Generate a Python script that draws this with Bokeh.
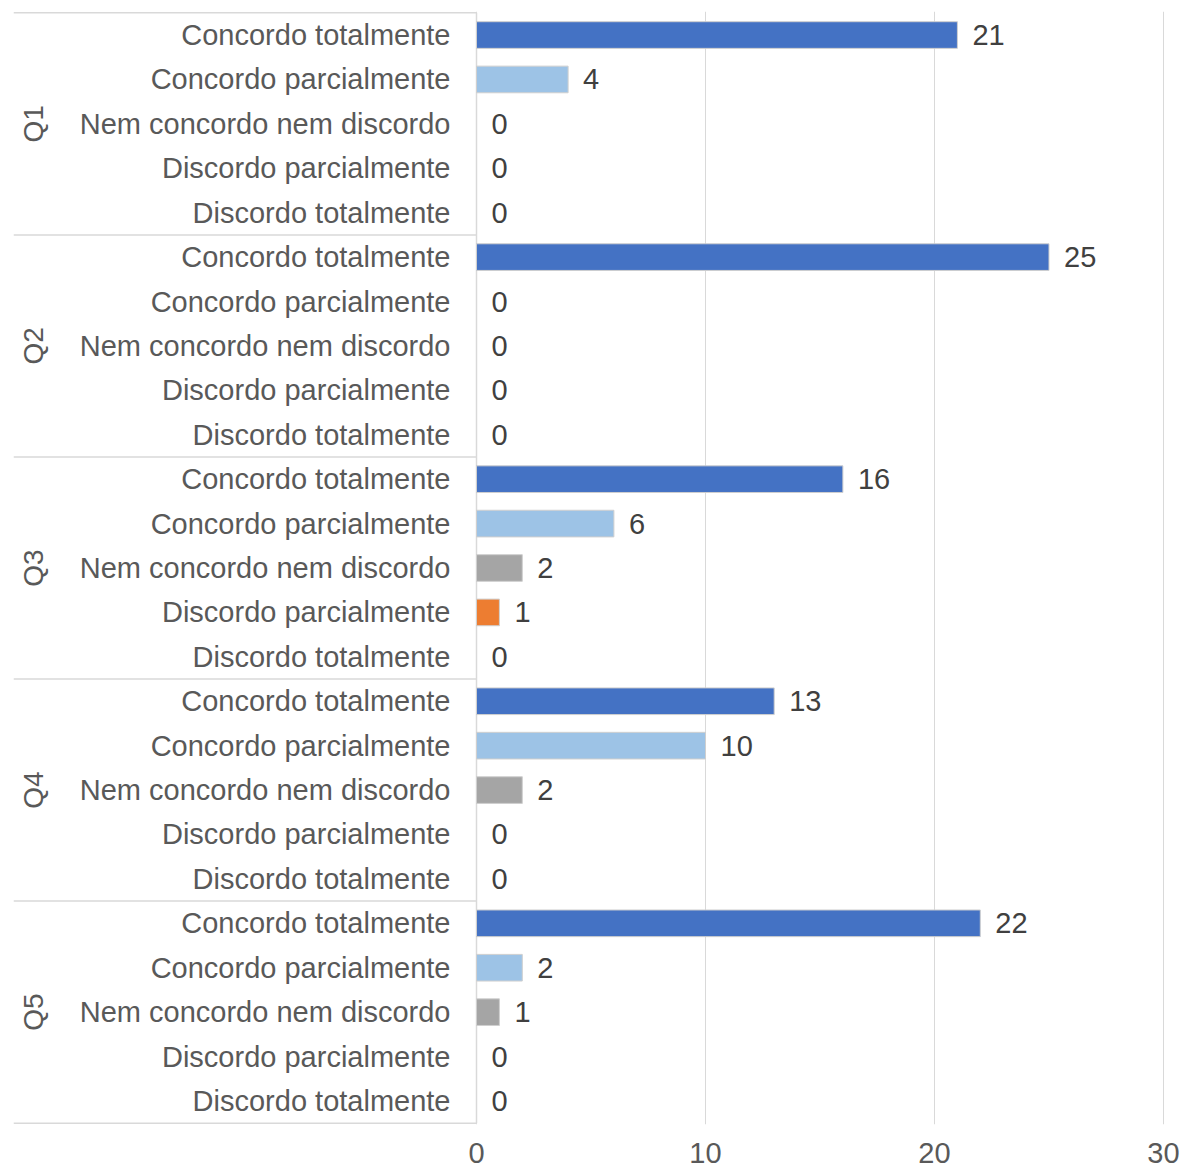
import math
from bokeh.plotting import figure
from bokeh.models import ColumnDataSource, Range1d, FixedTicker
from bokeh.core.properties import value
from bokeh.embed import file_html
from bokeh.resources import INLINE

# ---- data ----
questions = ["Q1", "Q2", "Q3", "Q4", "Q5"]
responses = ["Concordo totalmente", "Concordo parcialmente", "Nem concordo nem discordo",
             "Discordo parcialmente", "Discordo totalmente"]
q1 = [21, 4, 0, 0, 0]
q2 = [25, 0, 0, 0, 0]
q3 = [16, 6, 2, 1, 0]
q4 = [13, 10, 2, 0, 0]
q5 = [22, 2, 1, 0, 0]
x_ticks = [0, 10, 20, 30]
colors = ["#4472C4", "#9DC3E6", "#A5A5A5", "#ED7D31", "#C00000"]

series = [q1, q2, q3, q4, q5]
FONT = "Liberation Sans"

rows_y, rows_v, rows_lab, rows_col, rows_la = [], [], [], [], []
for gi, vals in enumerate(series):
    for ri, v in enumerate(vals):
        rows_y.append(gi * len(responses) + ri + 0.5)
        rows_v.append(v)
        rows_lab.append(responses[ri])
        rows_col.append(colors[ri])
        rows_la.append(1.0 if v > 0 else 0.0)
src = ColumnDataSource(dict(y=rows_y, v=rows_v, lab=rows_lab, col=rows_col, la=rows_la,
                            vtxt=[str(v) for v in rows_v]))

n_rows = len(rows_y)
px_per_unit = 22.9
frame_w = 1191 - 13 - 6
x0 = -463 / px_per_unit
p = figure(width=1191, height=1171, output_backend="svg", toolbar_location=None,
           x_range=Range1d(x0, x0 + frame_w / px_per_unit),
           y_range=Range1d(n_rows + 0.03, -0.03),
           min_border_left=13, min_border_right=6, min_border_top=11, min_border_bottom=47)
p.outline_line_color = None
p.yaxis.visible = False
p.ygrid.visible = False
p.xaxis.ticker = FixedTicker(ticks=x_ticks)
p.xgrid.ticker = FixedTicker(ticks=x_ticks)
p.xgrid.grid_line_color = "#D9D9D9"
p.xgrid.grid_line_width = 1
p.xaxis.axis_line_color = None
p.xaxis.major_tick_line_color = None
p.xaxis.minor_tick_line_color = None
p.xaxis.major_label_text_font = FONT
p.xaxis.major_label_text_font_size = "29px"
p.xaxis.major_label_text_color = "#595959"
p.xaxis.major_label_standoff = 12

# group separator lines across the label area
sep_y = [g * len(responses) for g in range(len(questions) + 1)]
p.segment(x0=[x0] * len(sep_y), x1=[0] * len(sep_y), y0=sep_y, y1=sep_y,
          line_color="#D9D9D9", line_width=1.5)
p.segment(x0=[0], x1=[0], y0=[0], y1=[n_rows], line_color="#D9D9D9", line_width=1.5)

# bars
p.hbar(y="y", right="v", left=0, height=0.6, source=src, fill_color="col",
       line_color="#CFCFCF", line_width=1, line_alpha="la")

# value labels
p.text(x="v", y="y", text="vtxt", source=src, x_offset=15, text_align="left",
       text_baseline="middle", text_font=value(FONT), text_font_size="29px",
       text_color="#404040")

# response labels
p.text(x=0, y="y", text="lab", source=src, x_offset=-26, text_align="right",
       text_baseline="middle", text_font=value(FONT), text_font_size="29px",
       text_color="#595959")

# question labels
qsrc = ColumnDataSource(dict(q=questions,
                             y=[g * len(responses) + len(responses) / 2 for g in range(len(questions))]))
p.text(x=0, y="y", text="q", source=qsrc, x_offset=-443, angle=math.pi / 2,
       text_align="center", text_baseline="middle", text_font=value(FONT),
       text_font_size="28px", text_color="#595959")

open("out.html", "w").write(file_html(p, INLINE))
